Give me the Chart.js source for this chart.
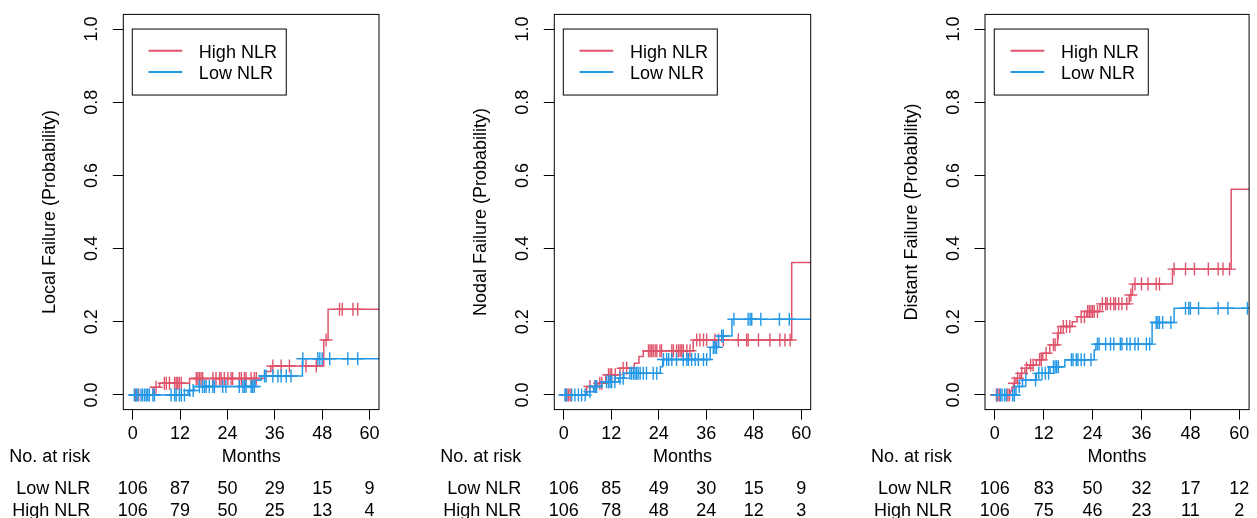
<!DOCTYPE html>
<html>
<head>
<meta charset="utf-8">
<script src="https://cdn.jsdelivr.net/npm/chart.js@4.4.0/dist/chart.umd.min.js"></script>
<style>
  html, body { margin: 0; padding: 0; background: #fff; }
  #wrap { position: relative; width: 1257px; height: 518px; overflow: hidden; }
  .panel { position: absolute; top: 0; height: 518px; }
</style>
</head>
<body>
<div id="wrap">
  <div class="panel" style="left:0px;width:430px"><canvas id="chart-local" width="430" height="518"></canvas></div>
  <div class="panel" style="left:430px;width:430px"><canvas id="chart-nodal" width="430" height="518"></canvas></div>
  <div class="panel" style="left:860px;width:397px"><canvas id="chart-distant" width="397" height="518"></canvas></div>
</div>
<script>
const months = [0, 12, 24, 36, 48, 60]
const probTicks = [0, 0.2, 0.4, 0.6, 0.8, 1.0]
const groups = ['High NLR', 'Low NLR']

// Local failure
const localHighTimes = [0, 5.2, 6.8, 14.4, 33.4, 35.0, 48.4, 49.5, 64]
const localHighValues = [0, 0.021, 0.032, 0.045, 0.064, 0.079, 0.150, 0.234, 0.234]
const localHighCensor = [0.7, 1.5, 5.9, 8.0, 8.5, 9.3, 10.6, 11.0, 11.4, 11.8, 12.3, 16.1, 16.5, 16.9, 17.3, 17.7, 20.3, 21.1, 22.0, 22.4, 23.2, 24.1, 24.9, 25.3, 27.0, 27.5, 28.3, 28.7, 30.0, 30.8, 31.3, 35.5, 37.6, 39.7, 43.9, 46.5, 49.0, 52.4, 53.1, 55.8, 57.0]
const localLowTimes = [0, 14.0, 15.5, 31.0, 32.5, 43.0, 64]
const localLowValues = [0, 0.012, 0.023, 0.040, 0.052, 0.099, 0.099]
const localLowCensor = [0.4, 0.9, 1.3, 2.1, 2.5, 3.0, 3.4, 3.8, 4.2, 5.1, 5.5, 9.7, 10.6, 11.0, 11.8, 12.3, 13.1, 14.4, 15.3, 16.9, 17.7, 18.2, 18.6, 19.4, 20.3, 20.7, 22.8, 23.6, 27.0, 27.9, 28.3, 28.7, 30.0, 30.4, 30.8, 33.4, 33.8, 35.5, 36.8, 37.6, 38.9, 40.1, 43.1, 46.9, 47.4, 48.0, 49.9, 54.5, 57.0]
const localRiskLow = [106, 87, 50, 29, 15, 9]
const localRiskHigh = [106, 79, 50, 25, 13, 4]

// Nodal failure
const nodalHighTimes = [0, 5.8, 8.6, 10.6, 14.2, 17.8, 19.0, 20.1, 32.7, 57.6, 64]
const nodalHighValues = [0, 0.023, 0.032, 0.055, 0.073, 0.087, 0.105, 0.121, 0.150, 0.362, 0.362]
const nodalHighCensor = [0.5, 0.8, 1.2, 1.6, 6.6, 7.9, 9.1, 9.6, 11.3, 11.7, 12.1, 13.0, 15.0, 15.9, 21.4, 21.8, 22.2, 22.6, 23.1, 23.5, 24.3, 24.7, 27.3, 27.7, 28.5, 29.0, 29.4, 29.8, 30.2, 31.1, 31.9, 33.6, 34.4, 35.3, 36.1, 38.2, 39.1, 40.3, 44.1, 46.2, 46.6, 49.2, 52.1, 54.6, 55.9, 57.2]
const nodalLowTimes = [0, 5.8, 7.5, 9.6, 13.9, 15.2, 24.4, 25.0, 37.0, 39.1, 42.5, 64]
const nodalLowValues = [0, 0.009, 0.023, 0.036, 0.046, 0.059, 0.077, 0.097, 0.130, 0.161, 0.207, 0.207]
const nodalLowCensor = [0.3, 0.7, 2.0, 2.8, 3.7, 4.5, 5.4, 6.6, 7.9, 8.3, 10.8, 11.3, 11.7, 12.1, 12.9, 14.2, 15.0, 16.7, 17.1, 17.6, 18.0, 18.4, 18.8, 19.3, 20.1, 20.9, 22.6, 23.5, 25.2, 26.0, 26.5, 27.3, 28.5, 30.2, 31.1, 31.5, 32.3, 33.2, 34.0, 35.3, 36.1, 37.8, 38.2, 38.6, 39.9, 40.3, 43.0, 46.6, 47.1, 47.5, 49.8, 54.5, 57.0]
const nodalRiskLow = [106, 85, 49, 30, 15, 9]
const nodalRiskHigh = [106, 78, 48, 24, 12, 3]

// Distant failure
const distantHighTimes = [0, 3.8, 4.2, 4.6, 5.2, 6.2, 7.4, 8.6, 10.2, 11.8, 13.5, 15.4, 16.2, 19.0, 20.2, 22.6, 25.8, 33.0, 33.8, 43.6, 58.0, 64]
const distantHighValues = [0, 0.011, 0.021, 0.032, 0.046, 0.059, 0.073, 0.082, 0.096, 0.114, 0.137, 0.169, 0.187, 0.200, 0.214, 0.228, 0.249, 0.273, 0.303, 0.344, 0.562, 0.562]
const distantHighCensor = [0.4, 0.8, 1.2, 3.2, 3.6, 4.8, 5.6, 6.6, 7.8, 8.8, 9.4, 11.0, 11.4, 12.6, 14.4, 14.8, 15.6, 16.8, 17.6, 18.4, 21.2, 22.0, 22.8, 23.2, 23.6, 24.0, 24.4, 25.2, 26.4, 27.2, 27.6, 28.4, 29.2, 29.6, 30.4, 31.2, 32.4, 33.4, 34.4, 36.0, 37.6, 39.6, 40.4, 44.0, 46.8, 49.0, 52.4, 54.8, 56.0, 57.6]
const distantLowTimes = [0, 5.2, 6.8, 10.2, 13.6, 17.2, 24.4, 24.8, 38.6, 44.0, 64]
const distantLowValues = [0, 0.023, 0.041, 0.059, 0.077, 0.096, 0.123, 0.139, 0.198, 0.237, 0.237]
const distantLowCensor = [0.6, 1.4, 1.8, 2.4, 2.8, 4.4, 4.8, 6.0, 7.6, 10.0, 10.8, 11.6, 12.4, 13.2, 14.4, 14.8, 15.2, 15.6, 18.8, 19.2, 20.0, 20.4, 21.2, 22.0, 23.6, 25.2, 25.6, 27.2, 28.4, 29.2, 30.8, 31.2, 32.4, 33.2, 34.4, 35.2, 37.2, 38.0, 39.6, 40.0, 40.4, 41.2, 43.2, 46.8, 47.6, 48.0, 50.0, 54.8, 57.2, 62.0]
const distantRiskLow = [106, 83, 50, 32, 17, 12]
const distantRiskHigh = [106, 75, 46, 23, 11, 2]

const RED = '#DF536B'
const BLUE = '#2297E6'
const FONT = '18px "Liberation Sans", Arial, Helvetica, sans-serif'

// level of a step curve at time t
function levelAt(times, values, t) {
  let v = values[0]
  times.forEach((time, i) => {
    if (time <= t) v = values[i]
  })
  return v
}

function stepDataset(times, values, color) {
  return {
    data: times.map((t, i) => ({ x: t, y: values[i] })),
    stepped: 'before',
    borderColor: color,
    borderWidth: 1.5,
    pointRadius: 0,
    fill: false
  }
}

function censorDataset(censor, times, values, color) {
  return {
    data: censor.map((t) => ({ x: t, y: levelAt(times, values, t) })),
    showLine: false,
    pointStyle: 'cross',
    pointRadius: 6.5,
    pointBorderWidth: 1.4,
    pointBorderColor: color,
    pointBackgroundColor: color
  }
}

const rFrame = {
  id: 'rFrame',
  afterDraw(chart, args, opts) {
    const ctx = chart.ctx
    const area = chart.chartArea
    const xScale = chart.scales.x
    const yScale = chart.scales.y
    ctx.save()
    ctx.strokeStyle = '#000'
    ctx.lineWidth = 1
    ctx.strokeRect(area.left, area.top, area.right - area.left, area.bottom - area.top)

    ctx.fillStyle = '#000'
    ctx.font = FONT

    // y tick labels (rotated)
    probTicks.forEach((v) => {
      const y = yScale.getPixelForValue(v)
      ctx.save()
      ctx.translate(area.left - 26, y)
      ctx.rotate(-Math.PI / 2)
      ctx.textAlign = 'center'
      ctx.textBaseline = 'alphabetic'
      ctx.fillText(v.toFixed(1), 0, 0)
      ctx.restore()
    })

    // y title
    ctx.save()
    ctx.translate(area.left - 68.5, (area.top + area.bottom) / 2)
    ctx.rotate(-Math.PI / 2)
    ctx.textAlign = 'center'
    ctx.textBaseline = 'alphabetic'
    ctx.fillText(opts.title, 0, 0)
    ctx.restore()

    // x tick labels
    ctx.textAlign = 'center'
    ctx.textBaseline = 'alphabetic'
    months.forEach((m) => {
      ctx.fillText(String(m), xScale.getPixelForValue(m), 438.5)
    })
    ctx.fillText('Months', (area.left + area.right) / 2, 461.5)

    // risk table
    const labelX = area.left - 33
    ctx.textAlign = 'right'
    ctx.fillText('No. at risk', labelX, 461.5)
    ctx.fillText('Low NLR', labelX, 494)
    ctx.fillText('High NLR', labelX, 515.5)
    ctx.textAlign = 'center'
    months.forEach((m, i) => {
      const x = xScale.getPixelForValue(m)
      ctx.fillText(String(opts.riskLow[i]), x, 494)
      ctx.fillText(String(opts.riskHigh[i]), x, 515.5)
    })

    // legend
    const lx = xScale.getPixelForValue(0) - 0.5
    const ly = yScale.getPixelForValue(1)
    ctx.fillStyle = '#fff'
    ctx.fillRect(lx, ly, 154, 66)
    ctx.strokeStyle = '#000'
    ctx.lineWidth = 1
    ctx.strokeRect(lx, ly, 154, 66)
    const colors = [RED, BLUE]
    groups.forEach((g, i) => {
      const yy = ly + 21.7 + i * 21.3
      ctx.strokeStyle = colors[i]
      ctx.lineWidth = 2
      ctx.beginPath()
      ctx.moveTo(lx + 16.3, yy)
      ctx.lineTo(lx + 50, yy)
      ctx.stroke()
      ctx.fillStyle = '#000'
      ctx.textAlign = 'left'
      ctx.fillText(g, lx + 66.6, yy + 6.8)
    })
    ctx.restore()
  }
}

const panels = [
  {
    id: 'chart-local', left: 0, width: 430, plotLeft: 123.3, plotRight: 379,
    title: 'Local Failure (Probability)',
    high: [localHighTimes, localHighValues, localHighCensor],
    low: [localLowTimes, localLowValues, localLowCensor],
    riskLow: localRiskLow, riskHigh: localRiskHigh
  },
  {
    id: 'chart-nodal', left: 430, width: 430, plotLeft: 554.3, plotRight: 810.7,
    title: 'Nodal Failure (Probability)',
    high: [nodalHighTimes, nodalHighValues, nodalHighCensor],
    low: [nodalLowTimes, nodalLowValues, nodalLowCensor],
    riskLow: nodalRiskLow, riskHigh: nodalRiskHigh
  },
  {
    id: 'chart-distant', left: 860, width: 397, plotLeft: 985, plotRight: 1255,
    title: 'Distant Failure (Probability)',
    high: [distantHighTimes, distantHighValues, distantHighCensor],
    low: [distantLowTimes, distantLowValues, distantLowCensor],
    riskLow: distantRiskLow, riskHigh: distantRiskHigh
  }
]

panels.forEach((p) => {
  const [hT, hV, hC] = p.high
  const [lT, lV, lC] = p.low
  new Chart(document.getElementById(p.id).getContext('2d'), {
    type: 'line',
    data: {
      datasets: [
        censorDataset(lC, lT, lV, BLUE),
        stepDataset(lT, lV, BLUE),
        censorDataset(hC, hT, hV, RED),
        stepDataset(hT, hV, RED)
      ]
    },
    options: {
      responsive: false,
      animation: false,
      events: [],
      layout: {
        padding: { top: 14.4, right: p.width - (p.plotRight - p.left), bottom: 0, left: 0 }
      },
      plugins: {
        legend: { display: false },
        tooltip: { enabled: false },
        rFrame: { title: p.title, riskLow: p.riskLow, riskHigh: p.riskHigh }
      },
      scales: {
        x: {
          type: 'linear',
          min: -2.4,
          max: 62.4,
          afterBuildTicks: (axis) => { axis.ticks = months.map((v) => ({ value: v })) },
          afterFit: (axis) => { axis.height = 518 - 409.6 },
          ticks: { display: false },
          grid: { drawOnChartArea: false, drawTicks: true, tickLength: 10, color: '#000', lineWidth: 1 },
          border: { display: false }
        },
        y: {
          type: 'linear',
          min: -0.04,
          max: 1.04,
          afterBuildTicks: (axis) => { axis.ticks = probTicks.map((v) => ({ value: v })) },
          afterFit: (axis) => { axis.width = p.plotLeft - p.left },
          ticks: { display: false },
          grid: { drawOnChartArea: false, drawTicks: true, tickLength: 10.5, color: '#000', lineWidth: 1 },
          border: { display: false }
        }
      }
    },
    plugins: [rFrame]
  })
})
</script>
</body>
</html>
